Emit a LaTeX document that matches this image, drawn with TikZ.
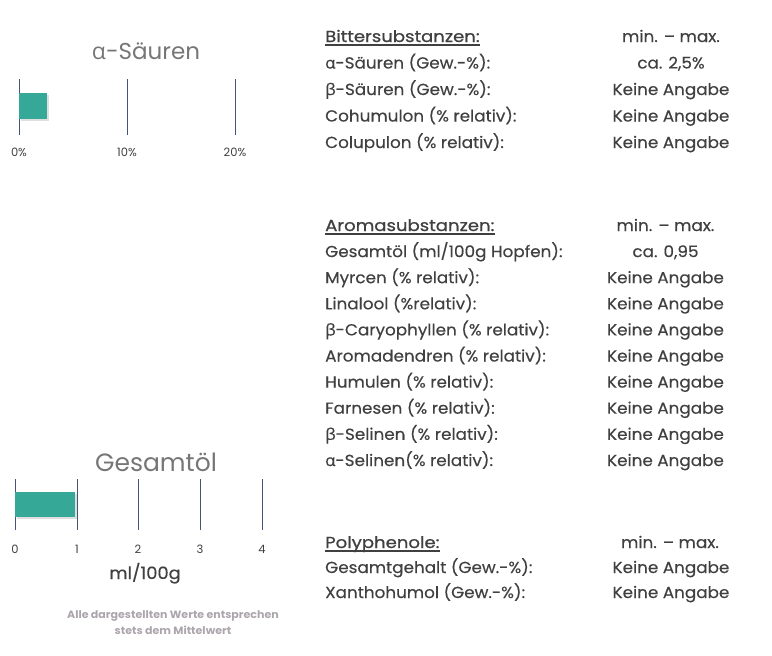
\documentclass[tikz,border=0pt]{standalone}
\usepackage{fontspec}
\setmainfont{Poppins}[FakeStretch=1.05, FakeBold=0.3]
\newfontfamily\gr{Open Sans}[FakeStretch=1.05, FakeBold=0.3]
\newfontfamily\hd{Poppins}[FakeStretch=1.13, FakeBold=0.9]
\newfontfamily\nt{Poppins}[FakeStretch=1.04]
\newfontfamily\plainf{Poppins}
\newfontfamily\plaingr{Open Sans}
\usetikzlibrary{shadows}
\definecolor{txt}{RGB}{64,64,64}
\definecolor{ttl}{RGB}{118,118,118}
\definecolor{grid}{RGB}{68,84,120}
\definecolor{teal}{RGB}{54,168,152}
\definecolor{note}{RGB}{172,166,172}
\tikzset{
  row/.style={anchor=base west, inner sep=0pt, text=txt, font=\fontsize{16}{18}\selectfont},
  val/.style={anchor=base, inner sep=0pt, text=txt, font=\fontsize{16}{18}\selectfont},
  head/.style={anchor=base west, inner sep=0pt, text=txt, font=\hd\fontsize{16}{18}\selectfont},
  uline/.style={draw=txt, line width=1.3pt},
  gridl/.style={draw=grid, line width=0.9pt},
  bar/.style={fill=teal, draw=none, drop shadow={opacity=0.25, shadow xshift=1.5pt, shadow yshift=-1.5pt}},
  ctitle/.style={anchor=base, inner sep=0pt, text=ttl},
  tick/.style={anchor=base, inner sep=0pt, text=txt, font=\plainf\fontsize{11.5}{13}\selectfont},
  notes/.style={anchor=base, inner sep=0pt, text=note, font=\nt\bfseries\fontsize{10.6}{12}\selectfont}
}
\begin{document}
\begin{tikzpicture}[x=1pt,y=-1pt]
\useasboundingbox (0,0) rectangle (772,656);
% ---- alpha chart
\node[ctitle, font=\plainf\fontsize{23}{26}\selectfont] (t1) at (146,59) {{\plaingr α}-Säuren};
\foreach \x/\n in {19/a0,127/a1,235/a2}{\coordinate (\n t) at (\x,79); \coordinate (\n b) at (\x,135); \draw[gridl] (\n t) -- (\n b);}
\path[bar] (19,93) rectangle (47,119);
\node[tick] (l0) at (19,156) {0\%};
\node[tick] (l1) at (127,156) {10\%};
\node[tick] (l2) at (235,156) {20\%};
% ---- oil chart
\node[ctitle, font=\plainf\fontsize{25}{28}\selectfont] (t2) at (156,471) {Gesamtöl};
\foreach \x/\n in {15/g0,77/g1,138/g2,200/g3,262/g4}{\coordinate (\n t) at (\x,479); \coordinate (\n b) at (\x,530); \draw[gridl] (\n t) -- (\n b);}
\path[bar] (15,492) rectangle (75,517);
\foreach \x/\v in {15/0,77/1,138/2,200/3,262/4}{\node[tick] (k\v) at (\x,553) {\v};}
\node[anchor=base, inner sep=0pt, text=txt, font=\fontsize{17}{19}\selectfont] (unit) at (145,579) {ml/100g};
\node[notes] (n1) at (173,618) {Alle dargestellten Werte entsprechen};
\node[notes] (n2) at (173,634) {stets dem Mittelwert};
% ---- Bitter
\node[head] (h1) at (325,42) {Bittersubstanzen:};
\draw[uline] ([yshift=-3pt]h1.base west) -- ([yshift=-3pt]h1.base east);
\node[val] (h1v) at (671,42) {min. – max.};
\node[row] (b1) at (325,68.5) {{\gr α}-Säuren (Gew.-\%):};       \node[val] (b1v) at (671,68.5) {ca. 2,5\%};
\node[row] (b2) at (325,95) {{\gr β}-Säuren (Gew.-\%):};         \node[val] (b2v) at (671,95) {Keine Angabe};
\node[row] (b3) at (325,121.5) {Cohumulon (\% relativ):};        \node[val] (b3v) at (671,121.5) {Keine Angabe};
\node[row] (b4) at (325,148) {Colupulon (\% relativ):};          \node[val] (b4v) at (671,148) {Keine Angabe};
% ---- Aroma
\node[head] (h2) at (325,231) {Aromasubstanzen:};
\draw[uline] ([yshift=-3pt]h2.base west) -- ([yshift=-3pt]h2.base east);
\node[val] (h2v) at (665.5,231) {min. – max.};
\node[row] (a1) at (325,257.1) {Gesamtöl (ml/100g Hopfen):};     \node[val] (a1v) at (665.5,257.1) {ca. 0,95};
\node[row] (a2) at (325,283.2) {Myrcen (\% relativ):};           \node[val] (a2v) at (665.5,283.2) {Keine Angabe};
\node[row] (a3) at (325,309.3) {Linalool (\%relativ):};          \node[val] (a3v) at (665.5,309.3) {Keine Angabe};
\node[row] (a4) at (325,335.4) {{\gr β}-Caryophyllen (\% relativ):}; \node[val] (a4v) at (665.5,335.4) {Keine Angabe};
\node[row] (a5) at (325,361.5) {Aromadendren (\% relativ):};     \node[val] (a5v) at (665.5,361.5) {Keine Angabe};
\node[row] (a6) at (325,387.6) {Humulen (\% relativ):};          \node[val] (a6v) at (665.5,387.6) {Keine Angabe};
\node[row] (a7) at (325,413.7) {Farnesen (\% relativ):};         \node[val] (a7v) at (665.5,413.7) {Keine Angabe};
\node[row] (a8) at (325,439.8) {{\gr β}-Selinen (\% relativ):};  \node[val] (a8v) at (665.5,439.8) {Keine Angabe};
\node[row] (a9) at (325,466) {{\gr α}-Selinen(\% relativ):};     \node[val] (a9v) at (665.5,466) {Keine Angabe};
% ---- Poly
\node[head] (h3) at (325,548) {Polyphenole:};
\draw[uline] ([yshift=-3pt]h3.base west) -- ([yshift=-3pt]h3.base east);
\node[val] (h3v) at (670,548) {min. – max.};
\node[row] (p1) at (325,573) {Gesamtgehalt (Gew.-\%):};         \node[val] (p1v) at (671,573) {Keine Angabe};
\node[row] (p2) at (325,598) {Xanthohumol (Gew.-\%):};          \node[val] (p2v) at (671,598) {Keine Angabe};
\end{tikzpicture}
\end{document}
